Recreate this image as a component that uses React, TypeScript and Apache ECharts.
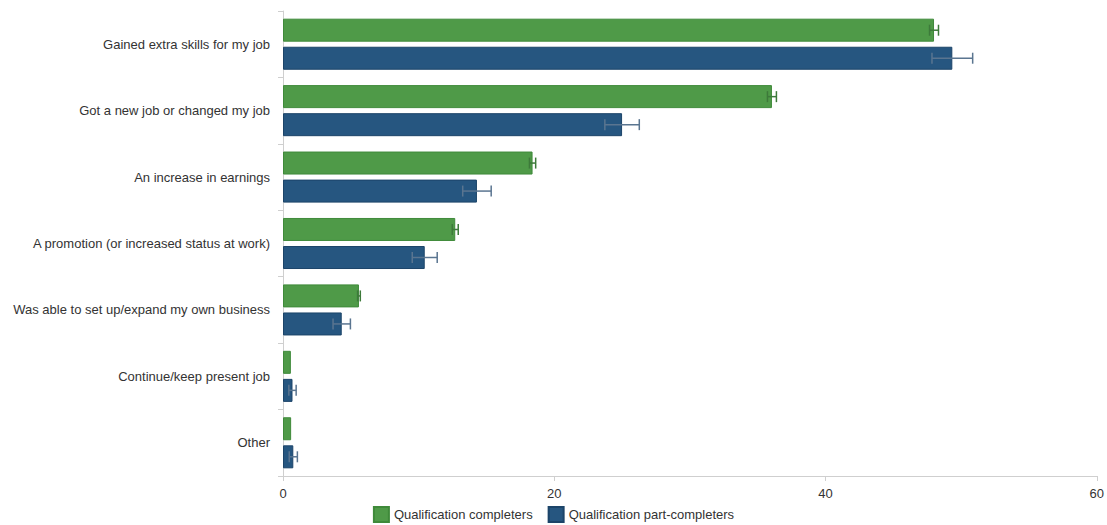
import React, { useEffect, useRef } from "react";
import * as echarts from "echarts";

const categories = [
  "Gained extra skills for my job",
  "Got a new job or changed my job",
  "An increase in earnings",
  "A promotion (or increased status at work)",
  "Was able to set up/expand my own business",
  "Continue/keep present job",
  "Other",
];
const seriesNames = ["Qualification completers", "Qualification part-completers"];
const completers = [48.0, 36.05, 18.4, 12.7, 5.6, 0.58, 0.6];
const completersErr = [0.33, 0.33, 0.23, 0.22, 0.1, 0, 0];
const partCompleters = [49.35, 25.0, 14.3, 10.45, 4.33, 0.7, 0.76];
const partCompletersErr = [1.5, 1.27, 1.05, 0.92, 0.64, 0.27, 0.3];
const xTicks = { min: 0, max: 60, interval: 20 };

const GREEN = "#4f9a48";
const GREEN_BORDER = "#3f8a3a";
const BLUE = "#265680";
const BLUE_BORDER = "#1c4469";

function errData(vals: number[], errs: number[]) {
  return vals.map((v, i) => [i, v - errs[i], v + errs[i]]);
}

function makeErrSeries(data: number[][], offset: number, color: string) {
  return {
    type: "custom",
    silent: true,
    z: 5,
    encode: { x: [1, 2], y: 0 },
    data,
    renderItem: (params: any, api: any) => {
      const idx = api.value(0);
      const lo = api.coord([api.value(1), idx]);
      const hi = api.coord([api.value(2), idx]);
      const y = lo[1] + offset;
      const h = 5.5;
      const style = { stroke: color, lineWidth: 1.5, fill: "none" };
      if (api.value(2) - api.value(1) <= 0) return null;
      return {
        type: "group",
        children: [
          { type: "line", shape: { x1: lo[0], y1: y, x2: hi[0], y2: y }, style },
          { type: "line", shape: { x1: lo[0], y1: y - h, x2: lo[0], y2: y + h }, style },
          { type: "line", shape: { x1: hi[0], y1: y - h, x2: hi[0], y2: y + h }, style },
        ],
      };
    },
  };
}

export default function App() {
  const ref = useRef<HTMLDivElement>(null);
  useEffect(() => {
    if (!ref.current) return;
    const chart = echarts.init(ref.current, null, { renderer: "svg" });
    chart.setOption({
      animation: false,
      textStyle: { fontFamily: "Liberation Sans, Arial, sans-serif" },
      legend: {
        bottom: -3,
        left: "center",
        itemWidth: 15,
        itemHeight: 15,
        itemGap: 15,
        textStyle: { color: "#333", fontSize: 13 },
        data: seriesNames.map((n) => ({ name: n, icon: "rect" })),
      },
      grid: { left: 283, right: 10, top: 11, bottom: 49, containLabel: false },
      xAxis: {
        type: "value",
        min: xTicks.min,
        max: xTicks.max,
        interval: xTicks.interval,
        splitLine: { show: false },
        axisLine: { show: true, lineStyle: { color: "#cfcfcf" } },
        axisTick: { show: true, length: 5, lineStyle: { color: "#cfcfcf" } },
        axisLabel: { color: "#333", fontSize: 13, margin: 11 },
      },
      yAxis: {
        type: "category",
        inverse: true,
        data: categories,
        axisLine: { show: true, lineStyle: { color: "#cfcfcf" } },
        axisTick: { show: true, length: 5, lineStyle: { color: "#cfcfcf" } },
        axisLabel: { color: "#333", fontSize: 13, margin: 13 },
      },
      series: [
        {
          name: seriesNames[0],
          type: "bar",
          data: completers,
          barWidth: 23,
          barGap: "22%",
          itemStyle: { color: GREEN, borderColor: GREEN_BORDER, borderWidth: 1 },
        },
        {
          name: seriesNames[1],
          type: "bar",
          data: partCompleters,
          barWidth: 23,
          barGap: "22%",
          itemStyle: { color: BLUE, borderColor: BLUE_BORDER, borderWidth: 1 },
        },
        makeErrSeries(errData(completers, completersErr), -14, "#3d7a3a"),
        makeErrSeries(errData(partCompleters, partCompletersErr), 14, "#5a7590"),
      ],
    });
    return () => chart.dispose();
  }, []);
  return (
    <div
      ref={ref}
      style={{ position: "absolute", left: 0, top: 0, width: 1107, height: 525 }}
    />
  );
}
